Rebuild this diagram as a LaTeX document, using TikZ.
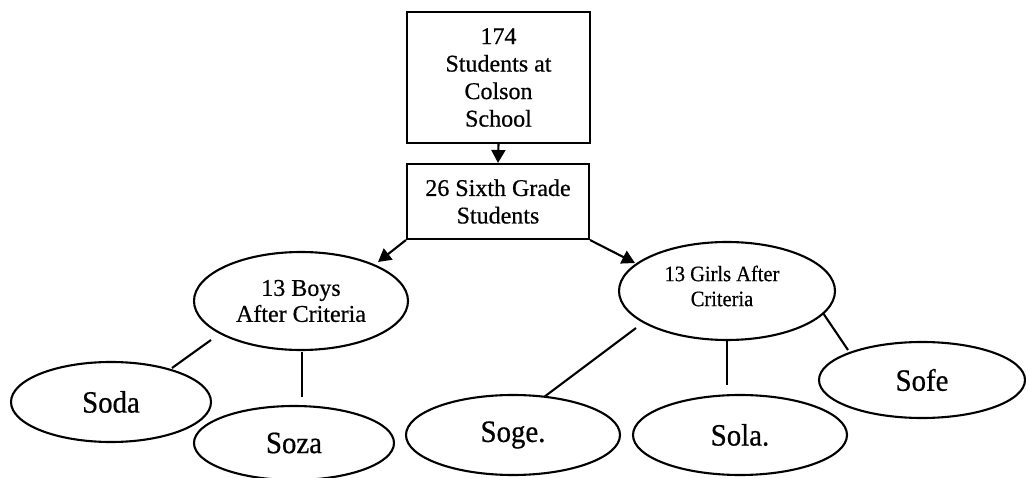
\documentclass[tikz,border=0pt]{standalone}
\usepackage{fontspec}
\setmainfont[FakeBold=0.6,AutoFakeBold=0.6]{Liberation Serif}
\newfontfamily\condfont[FakeStretch=0.93,FakeBold=0.6]{Liberation Serif}
\usetikzlibrary{shapes.geometric,arrows.meta}
\tikzset{
  box/.style={draw,line width=2.1pt,rectangle,inner sep=0pt,align=center,font=\fontsize{24}{27.5}\selectfont},
  oval/.style={draw,line width=2.1pt,ellipse,inner sep=0pt,align=center},
  leaf/.style={oval,font=\condfont\fontsize{31}{34}\selectfont},
  arr/.style={line width=2.1pt,-{Triangle[length=13pt,width=14pt]}},
  link/.style={line width=2.1pt}
}
\begin{document}
\begin{tikzpicture}[x=1pt,y=-1pt]
\useasboundingbox (0,0) rectangle (1026,478);
\node[box,minimum width=183pt,minimum height=131pt] (top) at (498.5,77.5) {174\\Students at\\Colson\\School};
\node[box,minimum width=182pt,minimum height=75pt] (mid) at (498,201.5) {26 Sixth Grade\\Students};
\node[oval,minimum width=214pt,minimum height=98pt] (boys) at (301,301) {};
\node[font=\fontsize{24}{26}\selectfont,align=center,inner sep=0pt] (boyst) at (301,301) {13 Boys\\After Criteria};
\node[oval,minimum width=216pt,minimum height=98pt] (girls) at (727,291) {};
\node[font=\condfont\fontsize{22}{25}\selectfont,align=center,inner sep=0pt] (girlst) at (722,286) {13 Girls After\\Criteria};
\node[leaf,minimum width=200pt,minimum height=80pt] (soda) at (111,402) {Soda};
\node[leaf,minimum width=200pt,minimum height=74pt] (soza) at (294,443) {Soza};
\node[leaf,minimum width=214pt,minimum height=80pt] (soge) at (513,435) {Soge.};
\node[leaf,minimum width=214pt,minimum height=80pt] (sola) at (740,435) {Sola.};
\node[leaf,minimum width=206pt,minimum height=76pt] (sofe) at (922,380) {Sofe};
% arrow tips
\coordinate (tipB) at (378,262);
\coordinate (tipG) at (635,263);
\draw[arr] (top.south) -- (mid.north);
\draw[arr] (mid.south west) -- (tipB);
\draw[arr] (mid.south east) -- (tipG);
% free line ends
\coordinate (a1) at (211,340); \coordinate (a2) at (172,368);
\coordinate (b1) at (302,352); \coordinate (b2) at (302,397);
\coordinate (c1) at (636,328); \coordinate (c2) at (544,397);
\coordinate (d1) at (727,340); \coordinate (d2) at (727,385);
\coordinate (e1) at (823,313); \coordinate (e2) at (848,350);
\draw[link] (a1) -- (a2);
\draw[link] (b1) -- (b2);
\draw[link] (c1) -- (c2);
\draw[link] (d1) -- (d2);
\draw[link] (e1) -- (e2);
\end{tikzpicture}
\end{document}
